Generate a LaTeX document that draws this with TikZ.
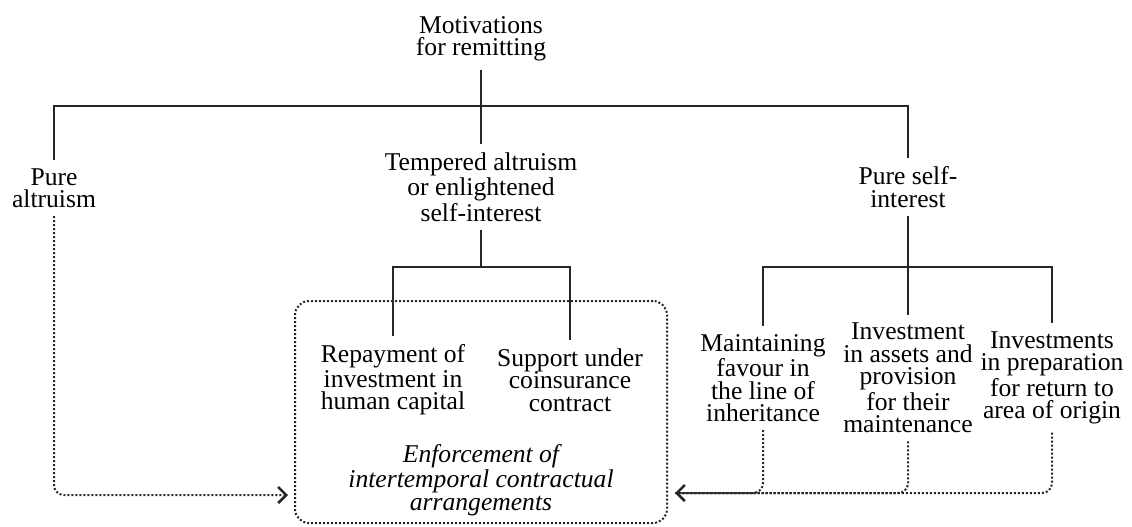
\documentclass[tikz,border=0pt]{standalone}
\usepackage{fontspec}
\setmainfont{Liberation Serif}
\usetikzlibrary{arrows.meta}
\definecolor{inkgray}{rgb}{0.15,0.15,0.15}

\tikzset{
  txt/.style={align=center, inner xsep=2pt, inner ysep=4pt, text=black, font=\fontsize{12.8pt}{11.2pt}\selectfont},
  link/.style={draw=inkgray, line width=1.3pt},
  dotlink/.style={draw=inkgray, line width=1pt, densely dotted, rounded corners=5pt},
  tip/.style={-{Straight Barb[length=4pt,width=8pt,line width=1.3pt]}},
}

\begin{document}
\begin{tikzpicture}[x=0.5pt, y=-0.5pt]
    \useasboundingbox (0,0) rectangle (1132,526);
    %top level
    \node[txt] (root) at (481,39) {Motivations\\for remitting};
    \node[txt] (pa) at (54,188) {Pure\\altruism};
    \node[txt] (ta) at (481,187) {Tempered altruism\\or enlightened\\self-interest};
    \node[txt] (ps) at (908,187) {Pure self-\\interest};
    %contract box
    \node[draw=inkgray, densely dotted, line width=1pt, rounded corners=7pt, minimum width=186pt, minimum height=111pt] (box) at (481,412) {};
    \node[txt] (rep) at (393,380) {Repayment of\\investment in\\human capital};
    \node[txt] (sup) at (570,380) {Support under\\coinsurance\\contract};
    \node[txt, font=\fontsize{12.8pt}{11.2pt}\selectfont\itshape] (enf) at (481,480) {Enforcement of\\intertemporal contractual\\arrangements};
    %self-interest leaves
    \node[txt] (mfl) at (763,378) {Maintaining\\favour in\\the line of\\inheritance};
    \node[txt] (inv) at (908,378) {Investment\\in assets and\\provision\\for their\\maintenance};
    \node[txt] (ret) at (1052,378) {Investments\\in preparation\\for return to\\area of origin};
    \coordinate (bar) at (481,106);
    \coordinate (fork1) at (481,267);
    \coordinate (fork2) at (908,267);
    \coordinate (lt) at (288,495);
    \coordinate (rt) at (675,493);
    \draw[link] (root) -- (ta);
    \draw[link] (pa) -- (pa |- bar) -- (ps |- bar) -- (ps);
    \draw[link] (ta) -- (fork1);
    \draw[link] (rep) -- (rep |- fork1) -- (sup |- fork1) -- (sup);
    \draw[link] (ps) -- (fork2) -- (inv);
    \draw[link] (mfl) -- (mfl |- fork2) -- (ret |- fork2) -- (ret);
    \draw[dotlink, tip] (pa) |- (lt);
    \draw[dotlink] (mfl) |- (rt);
    \draw[dotlink] (inv) |- (rt);
    \draw[dotlink, tip] (ret) |- (rt);
\end{tikzpicture}
\end{document}
